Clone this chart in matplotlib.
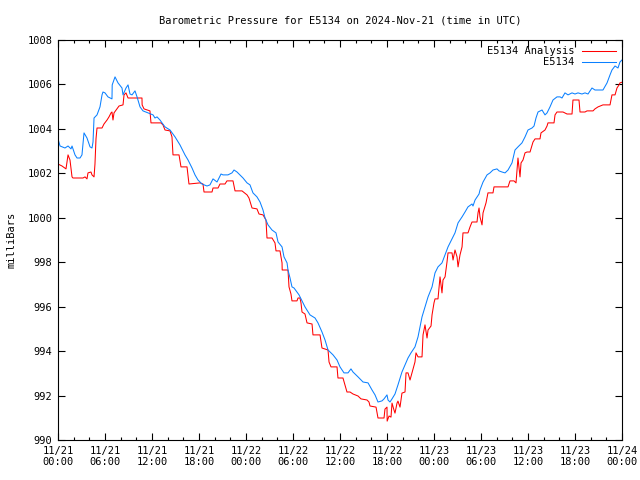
import matplotlib
matplotlib.use("Agg")
import matplotlib.pyplot as plt
from matplotlib.ticker import MultipleLocator

# hours since 2024-11-21 00:00 UTC, pressure in mb
obs_hours = [0.0, 0.26, 0.89, 1.28, 1.66, 1.79, 2.17, 2.43, 2.81, 3.06, 3.32, 3.70, 4.09, 4.34,
             4.47, 4.60, 4.98, 5.36, 5.62, 5.74, 6.00, 6.38, 6.89, 6.92, 7.28, 7.66, 8.17, 8.30,
             8.68, 8.94, 9.19, 9.45, 9.83, 10.09, 10.47, 10.85, 11.49, 12.13, 12.38, 12.64, 13.02,
             13.28, 13.66, 14.30, 14.94, 15.57, 16.21, 16.60, 17.11, 17.49, 17.87, 18.38, 19.02,
             19.40, 19.79, 20.30, 20.81, 21.06, 21.70, 22.21, 22.47, 22.85, 23.23, 23.62, 24.13,
             24.51, 24.89, 25.40, 25.79, 26.17, 26.43, 26.81, 27.32, 27.83, 28.09, 28.60, 28.85,
             29.24, 29.36, 29.62, 29.87, 30.13, 30.51, 30.77, 31.02, 31.28, 31.53, 32.17, 32.81,
             33.19, 33.70, 34.09, 34.47, 35.11, 35.62, 36.00, 36.51, 37.02, 37.40, 37.66, 38.30,
             38.94, 39.58, 40.09, 40.47, 40.85, 41.36, 41.62, 42.00, 42.13, 42.38, 42.64, 43.02,
             43.40, 43.91, 44.30, 44.68, 45.06, 45.57, 45.96, 46.47, 46.85, 47.24, 47.75, 48.13,
             48.51, 49.02, 49.41, 49.79, 50.30, 50.68, 51.07, 51.58, 51.96, 52.34, 52.85, 52.98,
             53.24, 53.75, 53.87, 54.26, 54.77, 55.15, 55.53, 56.04, 56.30, 56.68, 57.07, 57.45,
             57.96, 58.34, 58.72, 59.23, 59.62, 60.00, 60.51, 60.77, 61.02, 61.28, 61.79, 62.17,
             62.43, 62.81, 63.19, 63.70, 64.09, 64.34, 64.72, 65.11, 65.62, 66.00, 66.38, 66.89,
             67.28, 67.66, 68.17, 68.55, 69.57, 70.09, 70.47, 70.72, 71.11, 71.49, 71.74, 72.0]
obs_mb = [1003.55, 1003.23, 1003.14, 1003.23, 1003.10, 1003.23, 1002.83, 1002.69, 1002.69,
          1002.83, 1003.82, 1003.59, 1003.19, 1003.14, 1003.41, 1004.49, 1004.63, 1004.99,
          1005.53, 1005.66, 1005.62, 1005.44, 1005.35, 1005.98, 1006.34, 1006.07, 1005.84,
          1005.53, 1005.84, 1005.98, 1005.57, 1005.53, 1005.71, 1005.44, 1004.99, 1004.81,
          1004.72, 1004.63, 1004.49, 1004.54, 1004.40, 1004.27, 1004.09, 1003.95, 1003.64,
          1003.28, 1002.83, 1002.60, 1002.24, 1001.93, 1001.70, 1001.52, 1001.43, 1001.48,
          1001.75, 1001.61, 1001.97, 1001.93, 1001.93, 1002.02, 1002.15, 1002.06, 1001.93,
          1001.79, 1001.57, 1001.48, 1001.12, 1000.94, 1000.71, 1000.35, 999.99, 999.68,
          999.45, 999.32, 998.91, 998.69, 998.24, 997.97, 997.65, 997.29, 996.89, 996.84,
          996.66, 996.53, 996.35, 996.17, 995.99, 995.63, 995.49, 995.27, 994.86, 994.50,
          994.05, 993.83, 993.60, 993.29, 993.02, 993.02, 993.20, 993.06, 992.84, 992.61,
          992.57, 992.25, 992.03, 991.71, 991.76, 991.85, 992.03, 991.80, 991.71, 991.85,
          992.07, 992.48, 993.06, 993.38, 993.69, 993.92, 994.19, 994.64, 995.54, 995.99,
          996.44, 996.89, 997.52, 997.79, 997.97, 998.33, 998.69, 999.05, 999.32, 999.77,
          1000.04, 1000.26, 1000.49, 1000.62, 1000.53, 1000.80, 1001.07, 1001.25, 1001.61,
          1001.93, 1002.02, 1002.15, 1002.20, 1002.11, 1002.06, 1002.02, 1002.15, 1002.47,
          1003.05, 1003.19, 1003.37, 1003.64, 1003.95, 1004.04, 1004.13, 1004.49, 1004.76,
          1004.85, 1004.63, 1004.72, 1004.99, 1005.30, 1005.44, 1005.44, 1005.39, 1005.62,
          1005.53, 1005.62, 1005.57, 1005.62, 1005.57, 1005.62, 1005.57, 1005.84, 1005.75,
          1005.75, 1006.07, 1006.43, 1006.65, 1006.83, 1006.74, 1007.01, 1007.10]

ana_hours = [0.00, 0.51, 1.02, 1.28, 1.53, 1.79, 1.91, 3.19, 3.45, 3.70, 3.83, 4.21, 4.34, 4.60,
             4.72, 4.85, 4.98, 5.62, 5.87, 6.26, 6.51, 6.77, 6.89, 7.02, 7.15, 7.53, 7.79, 8.30,
             8.43, 8.68, 8.94, 10.72, 10.74, 10.98, 11.74, 11.87, 13.15, 13.40, 13.66, 14.30,
             14.55, 14.68, 15.45, 15.70, 16.47, 16.72, 18.13, 18.51, 18.64, 19.66, 19.79, 20.43,
             20.68, 21.32, 21.57, 22.34, 22.60, 23.49, 24.13, 24.38, 24.77, 25.40, 25.66, 26.17,
             26.55, 26.68, 27.32, 27.70, 27.83, 28.34, 28.60, 28.62, 29.36, 29.49, 29.74, 29.87,
             30.51, 30.64, 30.89, 31.02, 31.15, 31.53, 31.79, 32.43, 32.55, 33.45, 33.70, 34.47,
             34.60, 34.85, 35.62, 35.74, 36.38, 36.89, 37.28, 37.66, 38.30, 38.68, 39.45, 39.70,
             39.83, 40.60, 40.85, 41.62, 41.74, 42.00, 42.02, 42.26, 42.51, 42.64, 42.89, 43.02,
             43.28, 43.40, 43.66, 43.91, 44.30, 44.43, 44.68, 44.94, 45.19, 45.57, 45.70, 45.96,
             46.47, 46.60, 46.85, 47.11, 47.24, 47.62, 47.75, 48.00, 48.13, 48.51, 48.77, 49.02,
             49.15, 49.41, 49.66, 49.79, 50.30, 50.43, 50.68, 50.94, 51.07, 51.32, 51.58, 51.70,
             52.34, 52.60, 52.85, 53.49, 53.62, 53.75, 53.87, 54.13, 54.26, 54.64, 54.89, 55.53,
             55.66, 57.45, 57.70, 58.21, 58.47, 58.72, 58.98, 59.11, 59.36, 59.62, 59.87, 60.26,
             60.64, 60.90, 61.53, 61.66, 62.17, 62.43, 62.55, 63.32, 63.45, 63.70, 64.47, 64.98,
             65.62, 65.74, 66.51, 66.64, 67.28, 67.53, 68.30, 68.55, 68.94, 69.57, 70.47, 70.72,
             71.11, 71.36, 71.62, 71.74, 72.0]
ana_mb = [1002.42, 1002.33, 1002.20, 1002.83, 1002.60, 1001.84, 1001.79, 1001.79, 1001.84,
          1001.75, 1002.02, 1002.06, 1001.93, 1001.84, 1002.42, 1003.55, 1004.04, 1004.04,
          1004.22, 1004.40, 1004.54, 1004.72, 1004.76, 1004.40, 1004.72, 1004.90, 1005.03,
          1005.08, 1005.53, 1005.62, 1005.39, 1005.39, 1005.08, 1004.90, 1004.81, 1004.27,
          1004.27, 1004.18, 1003.95, 1003.91, 1003.64, 1002.83, 1002.83, 1002.29, 1002.29,
          1001.52, 1001.57, 1001.52, 1001.16, 1001.16, 1001.34, 1001.34, 1001.52, 1001.52,
          1001.66, 1001.66, 1001.21, 1001.21, 1001.03, 1000.89, 1000.44, 1000.40, 1000.17,
          1000.13, 999.90, 999.09, 999.09, 998.87, 998.51, 998.51, 997.97, 997.65, 997.65,
          996.89, 996.57, 996.26, 996.26, 996.39, 996.39, 996.17, 995.76, 995.67, 995.27,
          995.22, 994.73, 994.73, 994.14, 994.05, 993.51, 993.29, 993.29, 992.79, 992.79,
          992.16, 992.16, 992.07, 991.98, 991.85, 991.80, 991.71, 991.53, 991.48, 990.99,
          990.99, 991.39, 991.48, 990.85, 991.08, 991.03, 991.66, 991.35, 991.21, 991.66,
          991.75, 991.48, 992.11, 992.16, 993.02, 993.02, 992.70, 993.02, 993.51, 993.92,
          993.74, 993.74, 994.73, 995.18, 994.59, 994.95, 995.13, 995.63, 996.17, 996.35,
          996.35, 997.34, 996.62, 997.20, 997.34, 998.01, 998.42, 998.42, 998.10, 998.55,
          998.24, 997.79, 998.33, 998.69, 999.32, 999.32, 999.59, 999.81, 999.81, 1000.22,
          1000.44, 1000.04, 999.68, 1000.22, 1000.67, 1001.12, 1001.12, 1001.39, 1001.39,
          1001.66, 1001.66, 1001.57, 1002.69, 1001.84, 1002.47, 1002.60, 1002.92, 1002.96,
          1002.96, 1003.41, 1003.55, 1003.55, 1003.82, 1003.95, 1004.13, 1004.27, 1004.27,
          1004.63, 1004.76, 1004.76, 1004.67, 1004.67, 1005.30, 1005.30, 1004.76, 1004.76,
          1004.81, 1004.81, 1004.90, 1004.99, 1005.08, 1005.08, 1005.53, 1005.53, 1005.84,
          1005.98, 1006.07, 1006.10]

tick_hours = [0, 6, 12, 18, 24, 30, 36, 42, 48, 54, 60, 66, 72]
tick_labels = ["11/21\n00:00", "11/21\n06:00", "11/21\n12:00", "11/21\n18:00",
               "11/22\n00:00", "11/22\n06:00", "11/22\n12:00", "11/22\n18:00",
               "11/23\n00:00", "11/23\n06:00", "11/23\n12:00", "11/23\n18:00",
               "11/24\n00:00"]

plt.rcParams["font.family"] = ["DejaVu Sans Mono"]
plt.rcParams["font.size"] = 7.5

fig = plt.figure(figsize=(6.4, 4.8), dpi=100)
ax = fig.add_axes([58 / 640, 40 / 480, 564 / 640, 400 / 480])

ax.plot(ana_hours, ana_mb, color="#ff0000", lw=0.75, label="E5134 Analysis")
ax.plot(obs_hours, obs_mb, color="#0a80ff", lw=0.75, label="E5134")

ax.set_xlim(0, 72)
ax.set_ylim(990, 1008)
ax.set_xticks(tick_hours)
ax.set_xticklabels(tick_labels)
ax.xaxis.set_minor_locator(MultipleLocator(2))
ax.yaxis.set_major_locator(MultipleLocator(2))
ax.tick_params(which="both", direction="in", top=True, right=True, width=0.8)
ax.tick_params(which="major", length=5, pad=4)
ax.tick_params(which="minor", length=2.5)
for s in ax.spines.values():
    s.set_linewidth(0.8)

ax.set_ylabel("milliBars", labelpad=8)
ax.set_title("Barometric Pressure for E5134 on 2024-Nov-21 (time in UTC)",
             fontsize=7.5, pad=12)

ax.legend(loc="upper right", frameon=False, markerfirst=False, handlelength=3.2,
          handletextpad=0.8, borderaxespad=0.2, labelspacing=0.1)

fig.savefig("out.png", dpi=100)
